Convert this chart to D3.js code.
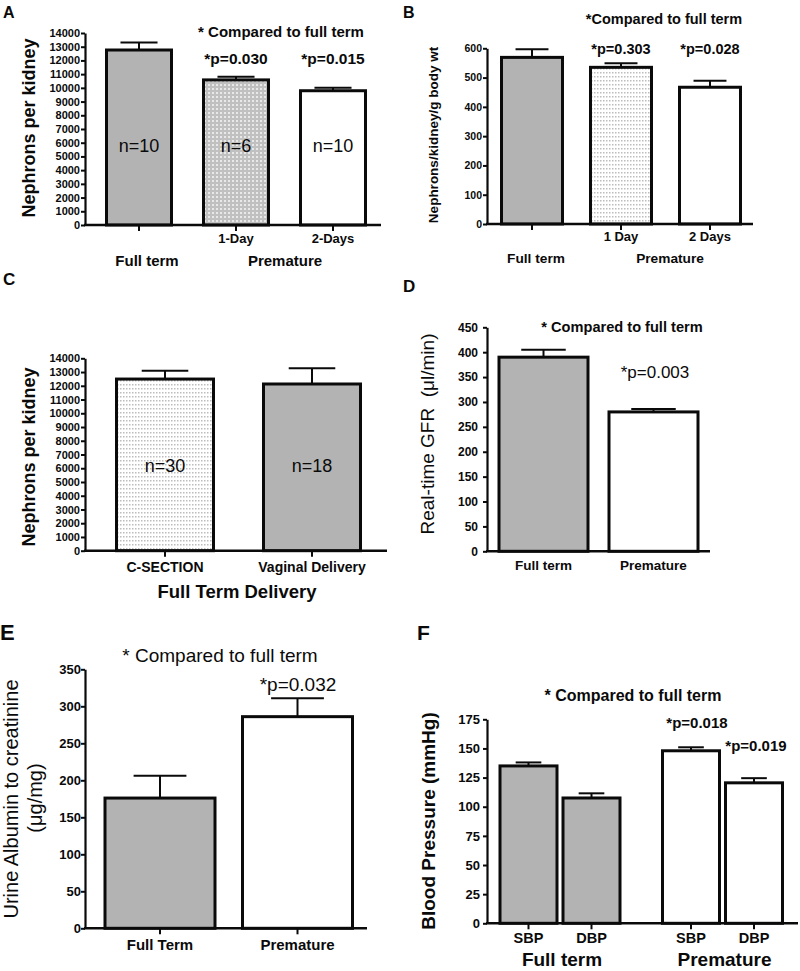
<!DOCTYPE html>
<html><head><meta charset="utf-8">
<script src="https://cdn.jsdelivr.net/npm/d3@7"></script>
<style>
body{margin:0;background:#fff}
svg{display:block}
text{font-family:Arial,"Liberation Sans",Helvetica,sans-serif;white-space:pre}
</style>
</head><body><svg id="chart" width="800" height="971"></svg>
<script>
// ---------------- Data ----------------
// Panel A
const aCategories = ["Full term", "1-Day", "2-Days"];
const aMeans = [12760, 10580, 9790];
const aErrors = [540, 230, 220];
const aCounts = ["n=10", "n=6", "n=10"];
const aPValues = ["", "*p=0.030", "*p=0.015"];
const aTickLabels = ["", "1-Day", "2-Days"];
const aYTicks = [0,1000,2000,3000,4000,5000,6000,7000,8000,9000,10000,11000,12000,13000,14000];

// Panel B
const bCategories = ["Full term", "1 Day", "2 Days"];
const bMeans = [569, 535, 467];
const bErrors = [28, 14, 22];
const bPValues = ["", "*p=0.303", "*p=0.028"];
const bTickLabels = ["", "1 Day", "2 Days"];
const bYTicks = [0,100,200,300,400,500,600];

// Panel C
const cCategories = ["C-SECTION", "Vaginal Delivery"];
const cMeans = [12490, 12130];
const cErrors = [600, 1140];
const cCounts = ["n=30", "n=18"];
const cYTicks = [0,1000,2000,3000,4000,5000,6000,7000,8000,9000,10000,11000,12000,13000,14000];

// Panel D
const dCategories = ["Full term", "Premature"];
const dMeans = [390, 280];
const dErrors = [15, 6];
const dYTicks = [0,50,100,150,200,250,300,350,400,450];

// Panel E
const eCategories = ["Full Term", "Premature"];
const eMeans = [176, 286];
const eErrors = [30, 25];
const eYTicks = [0,50,100,150,200,250,300,350];

// Panel F
const fGroups = ["Full term", "Premature"];
const fMeasures = ["SBP", "DBP"];
const fMeans = [135, 107.5, 148, 120.5];   // FT-SBP, FT-DBP, PT-SBP, PT-DBP
const fErrors = [3, 4, 3, 4];
const fPValues = ["", "", "*p=0.018", "*p=0.019"];
const fYTicks = [0,25,50,75,100,125,150,175];

// ---------------- Drawing ----------------
const svg = d3.select("#chart");
const defs = svg.append("defs");
// crosshatch-like grey texture
const p1 = defs.append("pattern").attr("id","hatch").attr("patternUnits","userSpaceOnUse").attr("width",4).attr("height",4);
p1.append("rect").attr("width",4).attr("height",4).attr("fill","#c0c0c0");
p1.append("rect").attr("width",2).attr("height",2).attr("fill","#e8e8e8");
// dotted light texture
const p2 = defs.append("pattern").attr("id","dots").attr("patternUnits","userSpaceOnUse").attr("width",3).attr("height",4);
p2.append("rect").attr("width",3).attr("height",4).attr("fill","#ffffff");
p2.append("rect").attr("width",1.5).attr("height",1.5).attr("fill","#bdbdbd");

const GREY = "#b3b3b3", WHITE = "#ffffff", HATCH = "url(#hatch)", DOTS = "url(#dots)";
const INK = "#0a0a0a";

function txt(g, s, x, y, size, bold, anchor, rot) {
  const t = g.append("text").text(s)
    .attr("font-size", size).attr("font-weight", bold ? "bold" : "normal")
    .attr("text-anchor", anchor || "middle").attr("fill", INK);
  if (rot) t.attr("transform", `translate(${x},${y}) rotate(-90)`);
  else t.attr("x", x).attr("y", y);
  return t;
}

function panel(cfg) {
  const g = svg.append("g");
  const y = d3.scaleLinear().domain([0, cfg.yTicks[cfg.yTicks.length-1]]).range([cfg.yBottom, cfg.yTop]);
  const xs = cfg.centers;
  // bars
  g.selectAll("rect.bar").data(cfg.means).join("rect").attr("class","bar")
    .attr("x", (d,i) => xs[i] - cfg.bw/2)
    .attr("y", d => y(d))
    .attr("width", cfg.bw)
    .attr("height", d => y(0) - y(d))
    .attr("fill", (d,i) => cfg.fills[i])
    .attr("stroke", INK).attr("stroke-width", 3);
  // error bars
  const cw = cfg.bw * cfg.capFrac;
  g.selectAll("line.err").data(cfg.means).join("line").attr("class","err")
    .attr("x1", (d,i)=>xs[i]).attr("x2", (d,i)=>xs[i])
    .attr("y1", d=>y(d)).attr("y2", (d,i)=>y(d+cfg.errors[i]))
    .attr("stroke",INK).attr("stroke-width",2);
  g.selectAll("line.cap").data(cfg.means).join("line").attr("class","cap")
    .attr("x1", (d,i)=>xs[i]-cw/2).attr("x2", (d,i)=>xs[i]+cw/2)
    .attr("y1", (d,i)=>y(d+cfg.errors[i])).attr("y2", (d,i)=>y(d+cfg.errors[i]))
    .attr("stroke",INK).attr("stroke-width",2);
  // y axis
  const ax = g.append("g").attr("transform", `translate(${cfg.xAxis},0)`)
    .call(d3.axisLeft(y).tickValues(cfg.yTicks).tickFormat(d3.format("d")).tickSize(4).tickSizeOuter(0).tickPadding(cfg.tickPad));
  ax.select(".domain").attr("stroke",INK).attr("stroke-width",2.2);
  ax.selectAll(".tick line").attr("stroke",INK).attr("stroke-width",2);
  ax.selectAll(".tick text").attr("font-size", cfg.tickFont).attr("font-weight","bold")
    .attr("font-family","Arial, 'Liberation Sans', sans-serif").attr("fill",INK);
  // x axis line
  g.append("line").attr("x1", cfg.xAxis - 1).attr("x2", cfg.xEnd).attr("y1", y(0)).attr("y2", y(0))
    .attr("stroke",INK).attr("stroke-width",2.5);
  // x ticks
  if (cfg.xTicks) {
    g.selectAll("line.xt").data(xs).join("line").attr("class","xt")
      .attr("x1", d=>d).attr("x2", d=>d).attr("y1", y(0)).attr("y2", y(0)+6)
      .attr("stroke",INK).attr("stroke-width",2);
  }
  return {g, y};
}

// ---- Panel A ----
{
  const x = d3.scalePoint().domain(aCategories).range([139, 333]);
  const centers = aCategories.map(c => x(c));
  const {g} = panel({centers, bw:65, capFrac:0.57, means:aMeans, errors:aErrors,
    fills:[GREY, HATCH, WHITE], yTicks:aYTicks, yBottom:225, yTop:33, xAxis:85, xEnd:381,
    tickPad:1, tickFont:11, xTicks:true});
  txt(g, "A", 3, 18, 16, true, "start");
  txt(g, "Nephrons per kidney", 35, 128, 18, true, "middle", true);
  txt(g, "* Compared to full term", 281, 37, 15, true);
  aPValues.forEach((p,i) => { if (p) txt(g, p, centers[i], 64, 15.5, true); });
  aCounts.forEach((n,i) => txt(g, n, centers[i], 152, 18, false));
  aTickLabels.forEach((l,i) => { if (l) txt(g, l, centers[i], 243, 13, true); });
  txt(g, "Full term", 147, 266, 15, true);
  txt(g, "Premature", 285, 266, 15, true);
}

// ---- Panel B ----
{
  const x = d3.scalePoint().domain(bCategories).range([532, 710]);
  const centers = bCategories.map(c => x(c));
  const {g} = panel({centers, bw:61, capFrac:0.54, means:bMeans, errors:bErrors,
    fills:[GREY, DOTS, WHITE], yTicks:bYTicks, yBottom:224, yTop:48.3, xAxis:487, xEnd:753,
    tickPad:1, tickFont:10.5, xTicks:true});
  txt(g, "B", 403, 18, 16, true, "start");
  txt(g, "Nephrons/kidney/g body wt", 438, 135, 13.5, true, "middle", true);
  txt(g, "*Compared to full term", 664, 24, 14.5, true);
  bPValues.forEach((p,i) => { if (p) txt(g, p, centers[i], 54, 14.5, true); });
  bTickLabels.forEach((l,i) => { if (l) txt(g, l, centers[i], 241, 13, true); });
  txt(g, "Full term", 536, 263, 13.7, true);
  txt(g, "Premature", 670, 263, 13.7, true);
}

// ---- Panel C ----
{
  const x = d3.scalePoint().domain(cCategories).range([165, 312]);
  const centers = cCategories.map(c => x(c));
  const {g} = panel({centers, bw:97, capFrac:0.48, means:cMeans, errors:cErrors,
    fills:[DOTS, GREY], yTicks:cYTicks, yBottom:550.7, yTop:358.3, xAxis:85, xEnd:387,
    tickPad:1, tickFont:11, xTicks:true});
  txt(g, "C", 3, 285, 17, true, "start");
  txt(g, "Nephrons per kidney", 35, 457, 18, true, "middle", true);
  cCounts.forEach((n,i) => txt(g, n, centers[i], 472, 18, false));
  cCategories.forEach((l,i) => txt(g, l, centers[i], 572, 14, true));
  txt(g, "Full Term Delivery", 237, 598, 18.5, true);
}

// ---- Panel D ----
{
  const x = d3.scalePoint().domain(dCategories).range([543.5, 653.5]);
  const centers = dCategories.map(c => x(c));
  const {g} = panel({centers, bw:89, capFrac:0.5, means:dMeans, errors:dErrors,
    fills:[GREY, WHITE], yTicks:dYTicks, yBottom:551.3, yTop:327.3, xAxis:487, xEnd:710,
    tickPad:5, tickFont:12, xTicks:false});
  txt(g, "D", 403, 292, 17, true, "start");
  txt(g, "Real-time GFR  (\u03bcl/min)", 434, 434, 19, false, "middle", true);
  txt(g, "* Compared to full term", 622, 332, 14.6, true);
  txt(g, "*p=0.003", 655, 378, 17, false);
  dCategories.forEach((l,i) => txt(g, l, centers[i], 570, 13.5, true));
}

// ---- Panel E ----
{
  const x = d3.scalePoint().domain(eCategories).range([160, 297.5]);
  const centers = eCategories.map(c => x(c));
  const {g} = panel({centers, bw:110, capFrac:0.48, means:eMeans, errors:eErrors,
    fills:[GREY, WHITE], yTicks:eYTicks, yBottom:928.3, yTop:669.3, xAxis:85, xEnd:367,
    tickPad:0, tickFont:13, xTicks:true});
  txt(g, "E", 0, 640, 22, true, "start");
  txt(g, "Urine Albumin to creatinine", 18, 799, 20, false, "middle", true);
  txt(g, "(\u03bcg/mg)", 42, 798, 20, false, "middle", true);
  txt(g, "* Compared to full term", 220, 662, 19, false);
  txt(g, "*p=0.032", 298, 691, 19, false);
  eCategories.forEach((l,i) => txt(g, l, centers[i], 950, 15, true));
}

// ---- Panel F ----
{
  const gx = d3.scalePoint().domain(fGroups).range([560, 722.5]);
  const ix = d3.scalePoint().domain(fMeasures).range([-31.5, 31.5]);
  const centers = [];
  fGroups.forEach(gr => fMeasures.forEach(m => centers.push(gx(gr) + ix(m))));
  const {g} = panel({centers, bw:57, capFrac:0.45, means:fMeans, errors:fErrors,
    fills:[GREY, GREY, WHITE, WHITE], yTicks:fYTicks, yBottom:923.3, yTop:719.3, xAxis:487, xEnd:798,
    tickPad:3, tickFont:13, xTicks:true});
  txt(g, "F", 417, 640, 21, true, "start");
  txt(g, "Blood Pressure (mmHg)", 435, 821, 19, true, "middle", true);
  txt(g, "* Compared to full term", 633, 701, 16, true);
  txt(g, fPValues[2], centers[2] + 6, 728, 15, true);
  txt(g, fPValues[3], centers[3] + 2, 751, 15, true);
  centers.forEach((c,i) => txt(g, fMeasures[i % 2], c, 943, 14.5, true));
  fGroups.forEach(gr => txt(g, gr, gx(gr) + 2, 966, 19, true));
}
</script>
</body></html>
